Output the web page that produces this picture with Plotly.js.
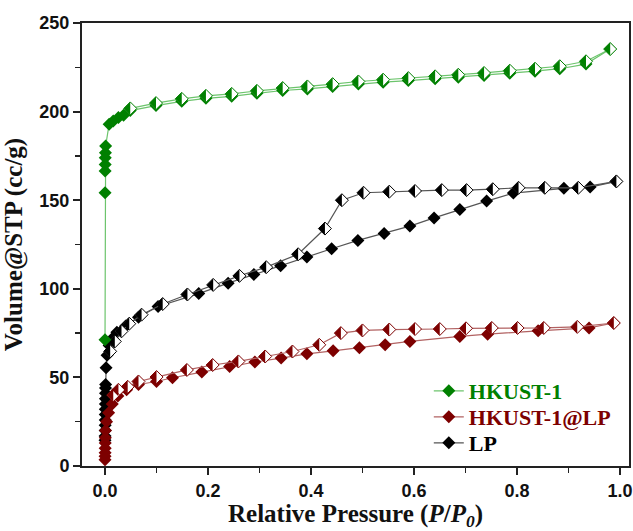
<!DOCTYPE html>
<html><head><meta charset="utf-8">
<script src="https://cdn.plot.ly/plotly-3.0.1.min.js"></script>
<style>html,body{margin:0;padding:0;background:#fff}#chart{width:633px;height:531px}</style>
</head><body><div id="chart"></div>
<script>
// ---- data ----
const hkAdsX = [0.0000, 0.0001, 0.0002, 0.0003, 0.0005, 0.0008, 0.0012, 0.008, 0.016, 0.026, 0.036, 0.049, 0.099, 0.149, 0.196, 0.246, 0.295, 0.345, 0.393, 0.442, 0.492, 0.540, 0.589, 0.641, 0.686, 0.736, 0.786, 0.835, 0.883, 0.934, 0.981];
const hkAdsY = [71.3, 154.2, 166.5, 170.2, 174.0, 176.8, 180.6, 192.9, 194.7, 196.6, 198.0, 200.6, 203.4, 205.8, 207.5, 208.6, 210.3, 211.9, 212.8, 214.1, 215.6, 216.6, 217.5, 218.5, 219.4, 220.4, 221.7, 222.8, 224.2, 226.8, 235.3];
const hkDesX = [0.981, 0.934, 0.883, 0.835, 0.786, 0.736, 0.686, 0.641, 0.589, 0.540, 0.492, 0.442, 0.393, 0.345, 0.295, 0.246, 0.196, 0.149, 0.099, 0.049];
const hkDesY = [235.3, 228.4, 225.6, 224.2, 223.1, 221.8, 220.8, 219.9, 218.9, 218.0, 217.0, 215.5, 214.2, 213.3, 211.7, 210.0, 208.9, 207.2, 204.8, 201.8];

const lpAdsX = [0.0000, 0.0001, 0.0002, 0.0003, 0.0004, 0.0005, 0.0006, 0.0007, 0.0008, 0.0009, 0.0010, 0.0012, 0.002, 0.004, 0.008, 0.014, 0.023, 0.040, 0.065, 0.103, 0.182, 0.239, 0.289, 0.341, 0.392, 0.440, 0.491, 0.542, 0.592, 0.639, 0.689, 0.741, 0.793, 0.891, 0.942, 0.993];
const lpAdsY = [14.5, 17, 20, 23, 26, 29, 32, 35, 38, 41, 44, 46, 55.5, 62.5, 68, 72, 75.5, 79, 84, 90, 97.3, 103.2, 108.1, 113, 118, 122.6, 127.3, 131.2, 135.4, 140, 144.8, 149.5, 154, 156.7, 157.4, 160.6];
const lpDesX = [0.993, 0.919, 0.854, 0.803, 0.753, 0.702, 0.654, 0.602, 0.552, 0.502, 0.460, 0.427, 0.375, 0.313, 0.261, 0.210, 0.160, 0.112, 0.071, 0.047, 0.032, 0.019, 0.010];
const lpDesY = [160.6, 157.0, 157.0, 157.0, 156.2, 155.7, 155.7, 155.2, 154.8, 154.2, 150.0, 134.0, 119.5, 112.2, 107.3, 102.2, 96.8, 91.4, 85.4, 80.3, 76.0, 70.3, 64.7];

const hlAdsX = [0.0000, 0.0001, 0.0002, 0.0003, 0.0004, 0.0006, 0.001, 0.003, 0.007, 0.014, 0.025, 0.042, 0.065, 0.100, 0.131, 0.188, 0.242, 0.291, 0.342, 0.392, 0.443, 0.494, 0.544, 0.592, 0.689, 0.743, 0.841, 0.940, 0.988];
const hlAdsY = [3.5, 5.5, 7.5, 10, 13, 16, 20, 25, 30, 35, 39.5, 43, 46, 47.7, 49.8, 53, 56.2, 58.7, 60.9, 63.3, 65, 66.8, 68.4, 70.3, 73.1, 74.4, 76.3, 77.9, 80.7];
const hlDesX = [0.988, 0.917, 0.852, 0.801, 0.751, 0.701, 0.650, 0.602, 0.552, 0.500, 0.458, 0.416, 0.364, 0.311, 0.259, 0.209, 0.159, 0.100, 0.065, 0.044, 0.026, 0.016];
const hlDesY = [80.7, 78.5, 77.9, 77.9, 77.9, 77.7, 77.3, 77.3, 77.0, 76.5, 75.0, 68.4, 64.6, 61.8, 59.0, 57.0, 54.2, 50.2, 47.7, 44.7, 43.0, 40.0];

const seriesNames = ['HKUST-1', 'HKUST-1@LP', 'LP'];
const xTickVals = [0, 0.2, 0.4, 0.6, 0.8, 1.0];
const yTickVals = [0, 50, 100, 150, 200, 250];

// ---- styling ----
const MS = 10;
function series(name, ax, ay, dx, dy, mc, lc, legendId) {
  return [
    {x: ax, y: ay, type: 'scatter', mode: 'lines+markers', hoverinfo: 'skip',
     name: '<span style="color:' + mc + '">' + name + '</span>', legend: legendId,
     line: {color: lc, width: 1.2},
     marker: {symbol: 'diamond', size: MS, color: mc, line: {width: 0}}},
    {x: dx, y: dy, type: 'scatter', mode: 'lines+markers', hoverinfo: 'skip', showlegend: false,
     line: {color: lc, width: 1.2},
     marker: {symbol: 'diamond', size: MS, color: '#ffffff', line: {color: mc, width: 1}}},
    {x: dx, y: dy, type: 'scatter', mode: 'markers', hoverinfo: 'skip', showlegend: false, meta: 'half',
     marker: {symbol: 'diamond', size: MS, color: mc, line: {width: 0}}}
  ];
}

const data = [].concat(
  series(seriesNames[2], lpAdsX, lpAdsY, lpDesX, lpDesY, '#000000', '#555555', 'legend3'),
  series(seriesNames[1], hlAdsX, hlAdsY, hlDesX, hlDesY, '#7d0000', '#b26262', 'legend2'),
  series(seriesNames[0], hkAdsX, hkAdsY, hkDesX, hkDesY, '#008000', '#6cc46c', 'legend')
);

const legFont = {family: 'Liberation Serif, Times New Roman, serif', size: 22, weight: 'bold'};
function leg(y) {
  return {x: 0.634, y: y, xanchor: 'left', yanchor: 'top', bgcolor: 'rgba(0,0,0,0)', font: legFont};
}

const axisCommon = {
  showline: true, linewidth: 2, linecolor: '#222', mirror: true,
  ticks: 'outside', ticklen: 7, tickwidth: 2, tickcolor: '#222',
  showgrid: false, zeroline: false,
  tickfont: {family: 'Liberation Sans, Arial, sans-serif', size: 18, weight: 'bold', color: '#111'}
};

const layout = {
  width: 633, height: 531,
  margin: {l: 82, r: 4, t: 23, b: 65},
  paper_bgcolor: '#fff', plot_bgcolor: '#fff',
  showlegend: true,
  legend: leg(0.2167),
  legend2: leg(0.158),
  legend3: leg(0.0993),
  xaxis: Object.assign({}, axisCommon, {
    range: [-0.0447, 1.0175], tickvals: xTickVals, tickformat: '.1f',
    minor: {dtick: 0.1, tick0: 0, ticks: 'outside', ticklen: 5, tickwidth: 1.5, tickcolor: '#222'},
    title: {text: 'Relative Pressure (<i>P</i>/<i>P</i><sub><i>0</i></sub>)',
            font: {family: 'Liberation Serif, Times New Roman, serif', size: 25, weight: 'bold', color: '#111'}}
  }),
  yaxis: Object.assign({}, axisCommon, {
    range: [0, 250], tickvals: yTickVals,
    minor: {dtick: 25, tick0: 0, ticks: 'outside', ticklen: 5, tickwidth: 1.5, tickcolor: '#222'},
    title: {text: 'Volume@STP (cc/g)',
            font: {family: 'Liberation Serif, Times New Roman, serif', size: 25, weight: 'bold', color: '#111'}}
  })
};

const gd = document.getElementById('chart');
Plotly.newPlot(gd, data, layout, {displayModeBar: false, staticPlot: true}).then(function () {
  const groups = gd.querySelectorAll('.scatterlayer g.trace');
  gd.data.forEach(function (tr, i) {
    if (tr.meta !== 'half' || !groups[i]) return;
    const rd = Math.round(MS / 2 * 1.3 * 100) / 100;
    groups[i].querySelectorAll('path.point').forEach(function (p) {
      p.setAttribute('d', 'M0,-' + rd + 'L-' + rd + ',0L0,' + rd + 'Z');
    });
  });
});
</script>
</body></html>
